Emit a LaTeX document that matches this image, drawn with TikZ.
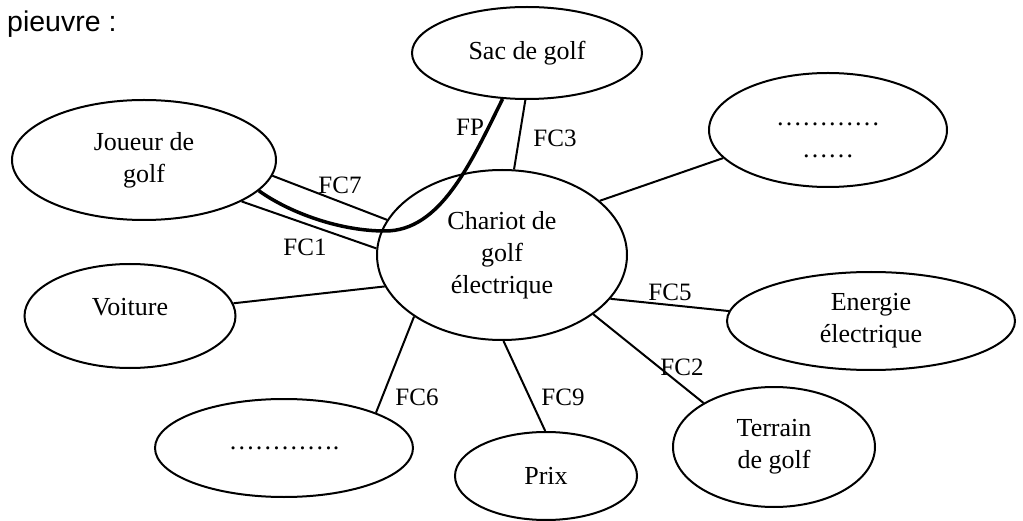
\documentclass[tikz,border=0pt]{standalone}
\usepackage{fontspec}
\setmainfont{Liberation Serif}
\newfontfamily\sansf{Liberation Sans}
\usetikzlibrary{shapes.geometric}
\begin{document}
\begin{tikzpicture}[x=1pt,y=-1pt,
  bub/.style={ellipse,draw,line width=2pt,inner sep=0pt,align=center,font=\fontsize{26}{32}\selectfont},
  conn/.style={line width=2pt},
  fpline/.style={line width=3.5pt},
  lab/.style={font=\fontsize{25}{30}\selectfont,inner sep=0pt}]
\useasboundingbox (0,0) rectangle (1023,521);
\node[anchor=base west,font=\sansf\fontsize{28.5}{34}\selectfont,inner sep=0pt] (title) at (7,32) {pieuvre :};
% ellipses
\node[bub,minimum width=250pt,minimum height=170pt] (chariot) at (502,255) {Chariot de\\golf\\électrique};
\node[bub,minimum width=264pt,minimum height=120pt] (joueur) at (144,160) {Joueur de\\golf};
\node[bub,minimum width=230pt,minimum height=92pt] (sac) at (527,53) {Sac de golf};
\node[bub,minimum width=238pt,minimum height=114pt] (tr) at (828,130) {\rule{0pt}{23pt}…………\\……};
\node[bub,minimum width=211pt,minimum height=104pt,text height=18pt,text depth=18pt] (voiture) at (130,316) {Voiture};
\node[bub,minimum width=258pt,minimum height=98pt] (blank) at (284,448) {………….};
\node[bub,minimum width=288pt,minimum height=98pt] (energie) at (871,321) {Energie\\électrique};
\node[bub,minimum width=202pt,minimum height=120pt] (terrain) at (774,447) {Terrain\\de golf};
\node[bub,minimum width=182pt,minimum height=88pt] (prix) at (546,476) {Prix};
% connectors
\draw[conn] (sac.-92.5) -- (chariot.82.6);
\draw[fpline] (sac.-118.5) .. controls (470,165) and (440,231) .. (385,231) .. controls (340,231) and (290,213) .. (joueur.-15.7);
\draw[conn] (joueur.-7.5) -- (chariot.163.1);
\draw[conn] (joueur.-23) -- (chariot.177.7);
\draw[conn] (voiture.7.5) -- (chariot.195.8);
\draw[conn] (chariot.-145.1) -- (blank.21);
\draw[conn] (chariot.-89.3) -- (prix.91.3);
\draw[conn] (chariot.-33.7) -- (terrain.148.6);
\draw[conn] (chariot.-22.2) -- (energie.176.8);
\draw[conn] (chariot.29.3) -- (tr.195);
% labels
\node[lab] (fp) at (470,127) {FP};
\node[lab] (fc3) at (555,138) {FC3};
\node[lab] (fc7) at (340,185) {FC7};
\node[lab] (fc1) at (305,247) {FC1};
\node[lab] (fc6) at (417,397) {FC6};
\node[lab] (fc9) at (563,397) {FC9};
\node[lab] (fc2) at (682,367) {FC2};
\node[lab] (fc5) at (670,292) {FC5};
\end{tikzpicture}
\end{document}
